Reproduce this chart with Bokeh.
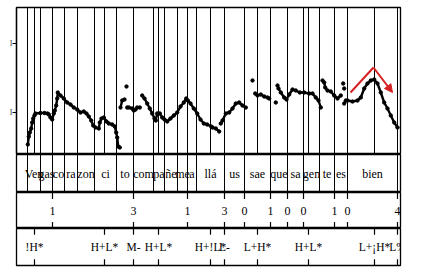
from bokeh.plotting import figure
from bokeh.layouts import column
from bokeh.models import Range1d, Span, FixedTicker, Arrow, NormalHead, LinearAxis
from bokeh.core.properties import value
from bokeh.embed import file_html
from bokeh.resources import INLINE

# ---------------- data ----------------
# time axis in centiseconds, f0 in Hz
t_window = (16, 400)
f0_window = (75, 369)
f0_ticks = [75, 159, 297]

f0_runs_t = [
    [27.3, 28.3, 29.3, 30.7, 31.7, 32.7, 34, 35, 40, 44, 47, 48.3, 50, 51.7, 53.3, 54.3, 55.7, 56.7, 57.3,
     60, 63.3, 66.7, 70, 73.3, 76.7, 80, 83.3, 86, 88.3, 90.7, 92.7, 95, 98.3, 99.3, 101, 103.3, 106,
     108.3, 111.7, 114.3, 115.7, 116.7, 117.7, 119.3],
    [120, 121.7, 124],
    [126],
    [126.7, 128.3, 131.7, 133.3, 135, 136.7, 139.3],
    [141.7, 144, 146.7, 149.3, 151.7, 154, 155.3, 156.7, 159.3, 161.7, 164, 166.7, 170, 173.3, 176.7,
     180, 183.3, 185.7, 187.3, 190, 193.3, 196.7, 200, 203.3, 206.7, 210.7, 212, 215.3, 218.7],
    [220.3, 222, 225.3, 228.7, 232, 235.3, 238.7, 242, 245.3],
    [252],
    [254.7, 257, 260.3, 263.7, 267, 268.7],
    [275.3],
    [277, 278, 280.3, 283.7, 286, 288.7, 292, 295.3, 299.3, 303.7, 308.7, 312, 315.3, 318, 320.3],
    [322, 323.7, 324.7, 327, 330.3, 333.7, 337, 340.3],
    [342.7],
    [343.7],
    [343.7, 345.3, 347, 352, 357, 360.3, 363.7, 367, 370.3, 373.7, 377, 380.3, 383.7, 387, 390.3,
     393.7, 397],
]
f0_runs_hz = [
    [95, 111, 119, 127, 139, 147, 153, 157, 158, 158, 157, 155, 149, 145, 157, 163, 173, 187, 199,
     193, 187, 179, 175, 169, 165, 159, 161, 157, 151, 143, 133, 129, 127, 139, 147, 149, 141,
     137, 135, 131, 119, 109, 91, 89],
    [169, 183, 185],
    [211],
    [169, 169, 167, 163, 165, 169, 169],
    [193, 187, 177, 167, 157, 147, 143, 157, 157, 149, 145, 141, 147, 153, 159, 171, 179, 187,
     183, 177, 167, 157, 145, 137, 135, 131, 129, 127, 121],
    [137, 143, 157, 159, 167, 177, 179, 173, 169],
    [223],
    [197, 193, 195, 191, 189, 187],
    [179],
    [213, 207, 199, 189, 185, 195, 205, 203, 199, 199, 197, 197, 189, 183, 169],
    [223, 219, 209, 203, 201, 193, 187, 193],
    [217],
    [207],
    [177, 183, 183, 181, 183, 189, 207, 217, 223, 225, 217, 199, 179, 167, 153, 139, 129],
]

syll_bounds = [27, 40, 52, 64, 77, 94, 116, 133, 153, 164, 177, 187, 196, 224, 244, 270, 287,
               303, 319, 334, 347, 397]
syll_labels = ["Ven", "gas", "co", "ra", "zon", "ci", "to", "com", "pa", "ñe", "me", "a", "llá",
               "us", "sae", "que", "sa", "gen", "te", "es", "bien"]

break_t = [52, 133, 187, 224, 244, 270, 287, 303, 334, 347, 397]
break_labels = ["1", "3", "1", "3", "0", "1", "0", "0", "1", "0", "4"]

tone_t = [34, 104, 133, 158, 210, 224, 257, 308, 374, 397]
tone_labels = ["!H*", "H+L*", "M-", "H+L*", "H+!L*", "L-", "L+H*", "H+L*", "L+¡H*", "L%"]

arrow_t = [350, 373, 392]
arrow_hz = [199, 249, 199]

# ---------------- drawing ----------------
FONT = value("Liberation Serif")
W = 425
x_range = Range1d(*t_window)


def base_fig(height, top=0, bottom=0, yr=(0, 1)):
    p = figure(width=W, height=height, x_range=x_range, y_range=Range1d(*yr),
               output_backend="svg", toolbar_location=None, x_axis_type=None,
               y_axis_type=None, min_border=0)
    p.min_border_left = 16
    p.min_border_right = 25
    p.min_border_top = top
    p.min_border_bottom = bottom
    p.xgrid.visible = False
    p.ygrid.visible = False
    p.outline_line_color = "black"
    p.outline_line_width = 1.3
    p.background_fill_color = "white"
    p.border_fill_color = "white"
    return p


# pitch panel
pp = base_fig(154, top=7, bottom=0, yr=f0_window)
yax = LinearAxis(ticker=FixedTicker(ticks=f0_ticks))
yax.major_label_overrides = {75: " ", 159: "I", 297: "I"}
yax.major_label_text_font = "Liberation Serif"
yax.major_label_text_font_size = "8px"
yax.major_label_standoff = 0
yax.major_tick_out = 4
yax.major_tick_in = 0
yax.minor_tick_line_color = None
yax.axis_line_color = "black"
yax.axis_line_width = 1.3
pp.add_layout(yax, "left")

all_marks = sorted(set(syll_bounds) | set(tone_t) | set(break_t))
for b in all_marks:
    pp.add_layout(Span(location=b, dimension="height", line_color="black", line_width=1))

pp.multi_line(xs=f0_runs_t, ys=f0_runs_hz, line_color="black", line_width=2.4)
flat_t = [v for run in f0_runs_t for v in run]
flat_hz = [v for run in f0_runs_hz for v in run]
pp.scatter(flat_t, flat_hz, size=3.4, color="black")

pp.line(arrow_t[:2], arrow_hz[:2], line_color="#d42222", line_width=2)
pp.add_layout(Arrow(x_start=arrow_t[1], y_start=arrow_hz[1], x_end=arrow_t[2], y_end=arrow_hz[2],
                    line_color="#d42222", line_width=2,
                    end=NormalHead(size=8, fill_color="#d42222", line_color="#d42222")))

# syllable tier
ps = base_fig(38)
for b in syll_bounds:
    ps.add_layout(Span(location=b, dimension="height", line_color="black", line_width=1))
syl_mid = [(a + b) / 2 for a, b in zip(syll_bounds[:-1], syll_bounds[1:])]
ps.text(x=syl_mid, y=[0.5] * len(syl_mid), text=syll_labels, text_font=FONT,
        text_font_size="12px", text_align="center", text_baseline="middle", text_color="black")

# break tier
pb = base_fig(36)
pb.segment(x0=break_t, y0=[1] * len(break_t), x1=break_t, y1=[0.82] * len(break_t),
           line_color="black", line_width=1.2)
pb.segment(x0=break_t, y0=[0] * len(break_t), x1=break_t, y1=[0.18] * len(break_t),
           line_color="black", line_width=1.2)
pb.text(x=break_t, y=[0.5] * len(break_t), text=break_labels, text_font=FONT,
        text_font_size="12px", text_align="center", text_baseline="middle", text_color="black")

# tone tier
pt = base_fig(51, bottom=14)
pt.segment(x0=tone_t, y0=[1] * len(tone_t), x1=tone_t, y1=[0.83] * len(tone_t),
           line_color="black", line_width=1.2)
pt.segment(x0=tone_t, y0=[0] * len(tone_t), x1=tone_t, y1=[0.17] * len(tone_t),
           line_color="black", line_width=1.2)
pt.text(x=tone_t, y=[0.5] * len(tone_t), text=tone_labels, text_font=FONT,
        text_font_size="11.5px", text_align="center", text_baseline="middle", text_color="black")

layout = column(pp, ps, pb, pt, spacing=0)
open("out.html", "w").write(file_html(layout, INLINE))
